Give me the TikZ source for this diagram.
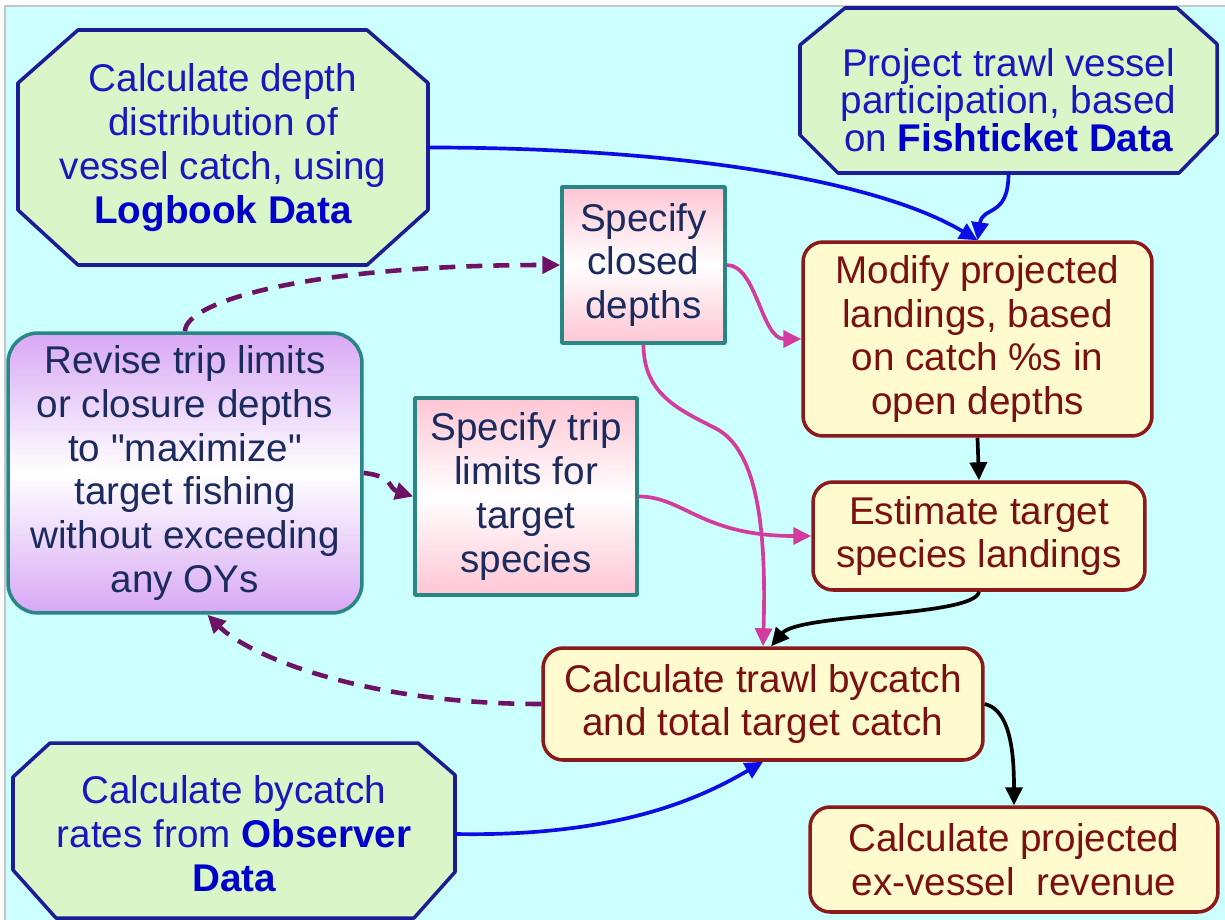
\documentclass[tikz,border=0pt]{standalone}
\usepackage{fontspec}
\setmainfont{Liberation Sans}[Ligatures=TeXOff]
\usetikzlibrary{arrows.meta}
\definecolor{bgcyan}{HTML}{CCFFFF}
\definecolor{octfill}{HTML}{DAF5C8}
\definecolor{octline}{HTML}{1C1C94}
\definecolor{octtext}{HTML}{1818C0}
\definecolor{datablue}{HTML}{0000CC}
\definecolor{linkblue}{HTML}{0C0CE6}
\definecolor{lilac}{HTML}{D8A8F4}
\definecolor{rosy}{HTML}{FFC6D4}
\definecolor{tealline}{HTML}{2A8585}
\definecolor{navytext}{HTML}{1C2B5E}
\definecolor{cream}{HTML}{FFFBCF}
\definecolor{maroon}{HTML}{8C1A1A}
\definecolor{maroontext}{HTML}{7A1010}
\definecolor{plum}{HTML}{6E1266}
\definecolor{pinklink}{HTML}{D23C9E}
\begin{document}
\begin{tikzpicture}[x=0.02cm, y=-0.02cm, line join=round,
		>={Triangle[length=0.36cm,width=0.34cm]},
		font=\fontsize{22}{25}\selectfont,
		octo/.style={draw=octline, fill=octfill, line width=2pt},
		octotxt/.style={text=octtext, align=center, inner sep=0pt},
		lilacbox/.style={draw=tealline, line width=2pt, rounded corners=0.6cm, top color=lilac, bottom color=lilac, middle color=white, text=navytext, align=center, inner sep=0pt},
		pinkbox/.style={draw=tealline, line width=2pt, top color=rosy, bottom color=rosy, middle color=white, text=navytext, align=center, inner sep=0pt},
		creambox/.style={draw=maroon, line width=2pt, rounded corners=0.4cm, fill=cream, text=maroontext, align=center, inner sep=0pt},
		bluelink/.style={->, draw=linkblue, line width=2.1pt},
		pinklnk/.style={->, draw=pinklink, line width=2.1pt},
		blacklnk/.style={->, draw=black, line width=2.1pt},
		dashlnk/.style={->, draw=plum, line width=2.6pt, dash pattern=on 0.32cm off 0.22cm}
		]
		\useasboundingbox (0,0) rectangle (1225,920);
		\fill[white] (0,0) rectangle (1225,920);
		\fill[bgcyan] (5,6) rectangle (1225,920);
		\draw[gray!45, line width=0.6pt] (5,920) -- (5,6) -- (1225,6);
		
		% data sources
		\draw[octo] (78,30) -- (367,30) -- (428,83) -- (428,210) -- (367,265) -- (78,265) -- (18,210) -- (18,83) -- cycle;
		\node[octotxt, minimum width=8.2cm, minimum height=4.7cm] (logbook) at (223,147.5) {Calculate depth\\ distribution of\\ vessel catch, using\\ {\bfseries\color{datablue}Logbook Data}};
		\draw[octo] (845,8) -- (1177,8) -- (1217,44) -- (1217,134) -- (1179,173) -- (838,173) -- (800,135) -- (800,45) -- cycle;
		\node[octotxt, font=\fontsize{22}{21.5}\selectfont, minimum width=8.34cm, minimum height=2.92cm] (fishticket) at (1008.5,100) {Project trawl vessel\\ participation, based\\ on {\bfseries\color{datablue}Fishticket Data}};
		\draw[octo] (50,743) -- (418,743) -- (455,775) -- (455,872) -- (414,918) -- (56,918) -- (13,870) -- (13,777) -- cycle;
		\node[octotxt, minimum width=8.84cm, minimum height=3.0cm] (observer) at (234,834) {Calculate bycatch\\ rates from {\bfseries\color{datablue}Observer}\\ {\bfseries\color{datablue}Data}};
		
		% management options
		\node[lilacbox, minimum width=7.08cm, minimum height=5.6cm] (revise) at (185,473) {Revise trip limits\\ or closure depths\\ to "maximize"\\ target fishing\\ without exceeding\\ any OYs};
		\node[pinkbox, minimum width=3.26cm, minimum height=3.12cm] (closed) at (643.5,265) {Specify\\ closed\\ depths};
		\node[pinkbox, minimum width=4.44cm, minimum height=3.94cm] (trip) at (526,496.5) {Specify trip\\ limits for\\ target\\ species};
		
		% model steps
		\node[creambox, minimum width=6.98cm, minimum height=3.88cm] (modify) at (977.5,339) {Modify projected\\ landings, based\\ on catch \%s in\\ open depths};
		\node[creambox, minimum width=6.64cm, minimum height=2.16cm] (estimate) at (979,536) {Estimate target\\ species landings};
		\node[creambox, minimum width=8.8cm, minimum height=2.24cm] (trawl) at (763,704) {Calculate trawl bycatch\\ and total target catch};
		\node[creambox, minimum width=8.16cm, minimum height=2.1cm] (revenue) at (1014,859.5) {Calculate projected\\ ex-vessel~~revenue};
		
		% links
		\draw[bluelink] (logbook.east) .. controls +(250,0) and +(-100,-60) .. (modify.north);
		\draw[bluelink] (fishticket.south) .. controls +(0,45) and +(5,-35) .. (modify.north);
		\draw[bluelink] (observer.east) .. controls +(165,3) and +(-60,35) .. (trawl.south);
		\draw[dashlnk] (revise.north) .. controls +(0,-30) and +(-250,0) .. (closed.west);
		\draw[dashlnk] (revise.east) .. controls +(30,3) and +(-25,-8) .. (trip.west);
		\draw[dashlnk] (trawl.west) .. controls +(-180,0) and +(40,40) .. (revise.-81);
		\draw[pinklnk] (closed.east) .. controls +(30,0) and +(-40,0) .. (modify.west);
		\draw[pinklnk] (closed.south) .. controls +(0,50) and (680,410) .. (715,428) .. controls (755,448) and (767,520) .. (trawl.north);
		\draw[pinklnk] (trip.east) .. controls +(45,0) and +(-110,0) .. (estimate.west);
		\draw[blacklnk] (modify.south) -- (estimate.north);
		\draw[blacklnk] (estimate.south) .. controls +(-4,25) and +(28,-33) .. (trawl.82);
		\draw[blacklnk] (trawl.east) .. controls +(27,6) and +(0,-47) .. (revenue.north);
\end{tikzpicture}
\end{document}
